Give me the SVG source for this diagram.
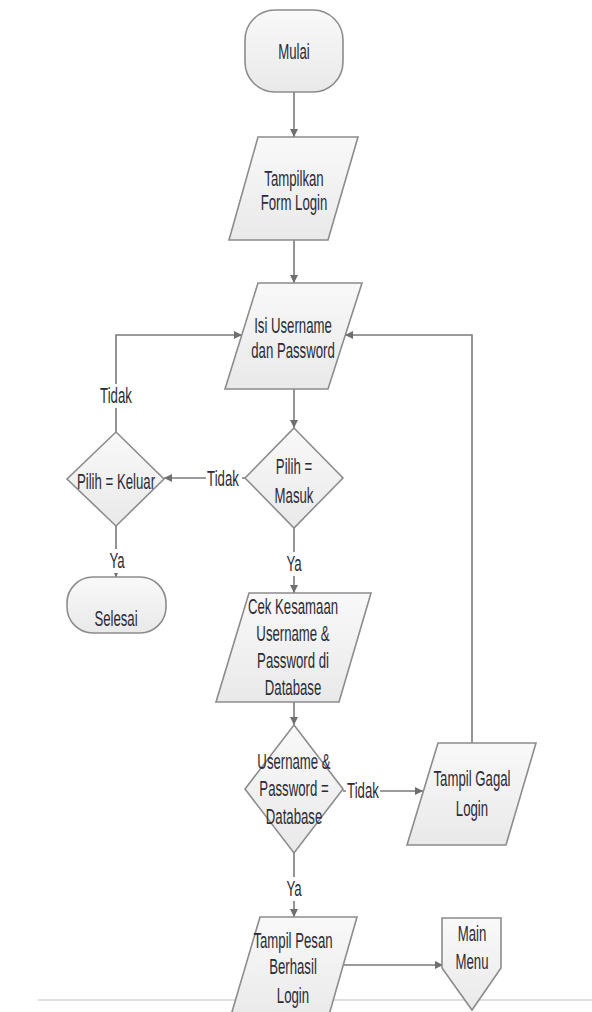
<svg xmlns="http://www.w3.org/2000/svg" width="592" height="1012" viewBox="0 0 592 1012">
<defs>
<linearGradient id="g" x1="0" y1="0" x2="0" y2="1">
<stop offset="0" stop-color="#f9f9f9"/>
<stop offset="1" stop-color="#e9e9e9"/>
</linearGradient>
<marker id="ah" markerWidth="10" markerHeight="10" refX="9" refY="5" orient="auto" markerUnits="userSpaceOnUse">
<path d="M1,1 L9,5 L1,9 Z" fill="#6f6f6f"/>
</marker>
<style>
.s{fill:url(#g);stroke:#8c8c8c;stroke-width:1.6}
.c{fill:none;stroke:#7a7a7a;stroke-width:1.6}
.t{font-family:"Liberation Sans",Arial,sans-serif;font-size:22px;fill:#2b2b38;text-anchor:middle}
.bg{fill:#ffffff}
</style>
</defs>
<rect width="592" height="1012" fill="#ffffff"/>
<line x1="38" y1="1000" x2="592" y2="1000" stroke="#d4d4d4" stroke-width="1.5"/>
<g id="connectors">
<line class="c" x1="294" y1="92" x2="294" y2="137" marker-end="url(#ah)"/>
<line class="c" x1="294" y1="240" x2="294" y2="283" marker-end="url(#ah)"/>
<line class="c" x1="294" y1="389" x2="294" y2="428" marker-end="url(#ah)"/>
<polyline class="c" points="116,432 116,335 242,335" marker-end="url(#ah)"/>
<line class="c" x1="245" y1="478" x2="164" y2="478" marker-end="url(#ah)"/>
<line class="c" x1="116" y1="526" x2="116" y2="577" marker-end="url(#ah)"/>
<line class="c" x1="294" y1="528" x2="294" y2="593" marker-end="url(#ah)"/>
<line class="c" x1="294" y1="702" x2="294" y2="725" marker-end="url(#ah)"/>
<line class="c" x1="343" y1="791" x2="423" y2="791" marker-end="url(#ah)"/>
<polyline class="c" points="472,743 472,335 345,335" marker-end="url(#ah)"/>
<line class="c" x1="294" y1="853" x2="294" y2="917" marker-end="url(#ah)"/>
<line class="c" x1="344" y1="965" x2="443" y2="965" marker-end="url(#ah)"/>
<rect class="bg" x="98" y="384" width="36" height="24"/>
<text class="t" transform="translate(116 403) scale(0.6 1)">Tidak</text>
<rect class="bg" x="206" y="467" width="36" height="24"/>
<text class="t" transform="translate(223 486) scale(0.6 1)">Tidak</text>
<rect class="bg" x="106" y="549" width="22" height="24"/>
<text class="t" transform="translate(117 568) scale(0.6 1)">Ya</text>
<rect class="bg" x="283" y="552" width="22" height="24"/>
<text class="t" transform="translate(294 571) scale(0.6 1)">Ya</text>
<rect class="bg" x="346" y="779" width="34" height="24"/>
<text class="t" transform="translate(363 798) scale(0.6 1)">Tidak</text>
<rect class="bg" x="283" y="877" width="22" height="24"/>
<text class="t" transform="translate(294 896) scale(0.6 1)">Ya</text>
</g>
<g id="mulai">
<rect class="s" x="245" y="10" width="98" height="82" rx="30" ry="30"/>
<text class="t" transform="translate(294 59) scale(0.6 1)">Mulai</text>
</g>
<g id="tampilkan">
<polygon class="s" points="258,137 358,137 328,240 229,240"/>
<text class="t" transform="translate(294 186) scale(0.6 1)">Tampilkan</text>
<text class="t" transform="translate(294 210) scale(0.6 1)">Form Login</text>
</g>
<g id="isi">
<polygon class="s" points="258,283 362,283 328,389 225,389"/>
<text class="t" transform="translate(293 333) scale(0.6 1)">Isi Username</text>
<text class="t" transform="translate(293 358) scale(0.6 1)">dan Password</text>
</g>
<g id="pilih-masuk">
<polygon class="s" points="294,428 343,478 294,528 245,478"/>
<text class="t" transform="translate(294 474) scale(0.6 1)">Pilih =</text>
<text class="t" transform="translate(294 503) scale(0.6 1)">Masuk</text>
</g>
<g id="pilih-keluar">
<polygon class="s" points="116,432 164,479 116,526 67,479"/>
<text class="t" transform="translate(116 489) scale(0.6 1)">Pilih = Keluar</text>
</g>
<g id="selesai">
<rect class="s" x="67" y="577" width="99" height="56" rx="26" ry="26"/>
<text class="t" transform="translate(116 626) scale(0.6 1)">Selesai</text>
</g>
<g id="cek">
<polygon class="s" points="249,593 371,593 339,702 216,702"/>
<text class="t" transform="translate(293 614) scale(0.6 1)">Cek Kesamaan</text>
<text class="t" transform="translate(293 641) scale(0.6 1)">Username &amp;</text>
<text class="t" transform="translate(293 668) scale(0.6 1)">Password di</text>
<text class="t" transform="translate(293 695) scale(0.6 1)">Database</text>
</g>
<g id="cek-database">
<polygon class="s" points="294,725 343,789 294,853 245,789"/>
<text class="t" transform="translate(294 769) scale(0.6 1)">Username &amp;</text>
<text class="t" transform="translate(294 796) scale(0.6 1)">Password =</text>
<text class="t" transform="translate(294 824) scale(0.6 1)">Database</text>
</g>
<g id="tampil-gagal">
<polygon class="s" points="438,743 536,743 506,845 407,845"/>
<text class="t" transform="translate(472 786) scale(0.6 1)">Tampil Gagal</text>
<text class="t" transform="translate(472 816) scale(0.6 1)">Login</text>
</g>
<g id="tampil-pesan">
<polygon class="s" points="260,917 357,917 327,1022 229,1022"/>
<text class="t" transform="translate(293 948) scale(0.6 1)">Tampil Pesan</text>
<text class="t" transform="translate(293 974) scale(0.6 1)">Berhasil</text>
<text class="t" transform="translate(293 1003) scale(0.6 1)">Login</text>
</g>
<g id="main-menu">
<polygon class="s" points="442,918 501,918 501,968 472,1010 442,968"/>
<text class="t" transform="translate(472 941) scale(0.6 1)">Main</text>
<text class="t" transform="translate(472 969) scale(0.6 1)">Menu</text>
</g>
</svg>
